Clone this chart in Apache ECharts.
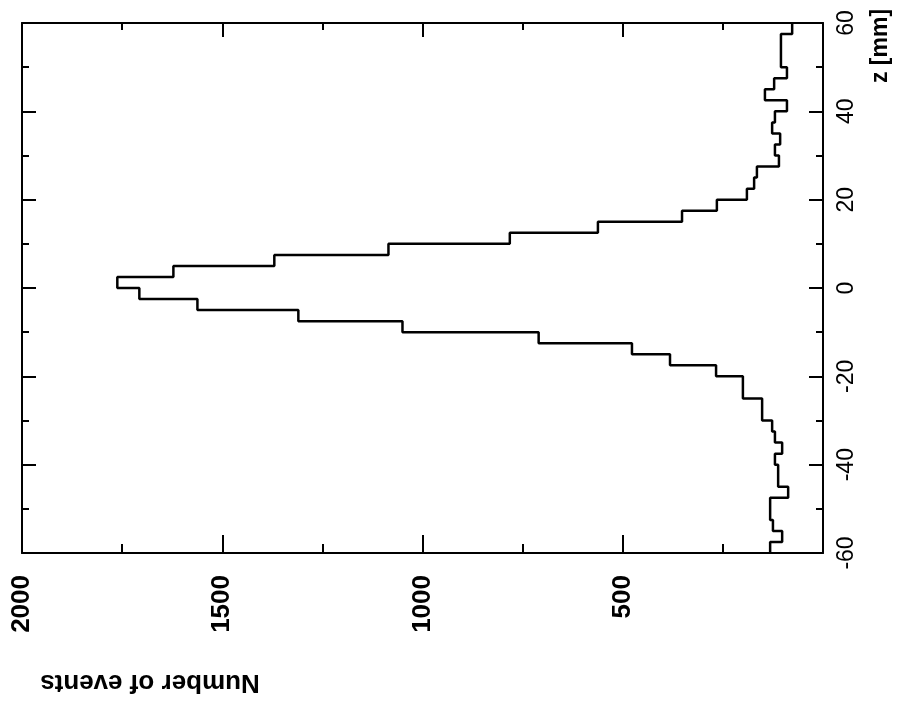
<!DOCTYPE html>
<html>
<head>
<meta charset="utf-8">
<script src="https://cdn.jsdelivr.net/npm/echarts@6/dist/echarts.min.js"></script>
<style>html,body{margin:0;padding:0;background:#fff}#c{width:897px;height:703px}</style>
</head>
<body>
<div id="c"></div>
<script>
// bin lower edges in z [mm] (bin width 2.5 mm)
const binLow = [-60,-57.5,-55,-52.5,-50,-47.5,-45,-42.5,-40,-37.5,-35,-32.5,-30,-27.5,-25,-22.5,-20,-17.5,-15,-12.5,-10,-7.5,-5,-2.5,
                0,2.5,5,7.5,10,12.5,15,17.5,20,22.5,25,27.5,30,32.5,35,37.5,40,42.5,45,47.5,50,52.5,55,57.5];
const binWidth = 2.5;
// number of events per bin
const counts = [132,102,125,132,132,87,112,112,120,102,120,127,152,152,200,200,267,382,477,710,1050,1310,1562,1707,
                1762,1622,1370,1085,782,562,352,265,190,172,165,110,120,107,127,120,90,145,122,90,105,105,105,77];
const countTickLabels = [500,1000,1500,2000];
const zTickLabels = [-60,-40,-20,0,20,40,60];
const xTitle = 'Number of events';
const zTitle = 'z [mm]';

const stepPts = [];
binLow.forEach((lo, i) => { stepPts.push([counts[i], lo]); stepPts.push([counts[i], lo + binWidth]); });

const font = 'Liberation Sans';
const chart = echarts.init(document.getElementById('c'), null, {renderer: 'canvas'});
const lineStyle = {color: '#000', width: 2};
chart.setOption({
  animation: false,
  backgroundColor: '#fff',
  grid: {left: 22, right: 74, top: 23, bottom: 150, containLabel: false},
  xAxis: [{
    type: 'value', position: 'bottom', min: 0, max: 2000, interval: 500, inverse: true,
    axisLine: {show: true, onZero: false, lineStyle},
    axisTick: {show: true, inside: true, length: 18, lineStyle: {color: '#000', width: 2}},
    minorTick: {show: true, splitNumber: 2, length: 9, lineStyle: {color: '#000', width: 2}},
    splitLine: {show: false},
    axisLabel: {
      show: true, rotate: 90, margin: 22, color: '#000', fontFamily: font, fontSize: 26, fontWeight: 'bold',
      showMinLabel: false,
      formatter: v => countTickLabels.includes(v) ? String(v) : ''
    }
  }, {
    type: 'value', position: 'top', min: 0, max: 2000, interval: 500, inverse: true,
    axisLine: {show: true, onZero: false, lineStyle},
    axisTick: {show: true, inside: true, length: 14, lineStyle: {color: '#000', width: 2}},
    minorTick: {show: true, splitNumber: 2, length: 7, lineStyle: {color: '#000', width: 2}},
    splitLine: {show: false},
    axisLabel: {show: false}
  }],
  yAxis: [{
    type: 'value', position: 'right', min: -60, max: 60, interval: 20,
    axisLine: {show: true, onZero: false, lineStyle},
    axisTick: {show: true, inside: true, length: 14, lineStyle: {color: '#000', width: 2}},
    minorTick: {show: true, splitNumber: 2, length: 7, lineStyle: {color: '#000', width: 2}},
    splitLine: {show: false},
    axisLabel: {
      show: true, rotate: 90, margin: 12, color: '#000', fontFamily: font, fontSize: 23,
      formatter: v => zTickLabels.includes(v) ? String(v) : ''
    }
  }, {
    type: 'value', position: 'left', min: -60, max: 60, interval: 20,
    axisLine: {show: true, onZero: false, lineStyle},
    axisTick: {show: true, inside: true, length: 14, lineStyle: {color: '#000', width: 2}},
    minorTick: {show: true, splitNumber: 2, length: 7, lineStyle: {color: '#000', width: 2}},
    splitLine: {show: false},
    axisLabel: {show: false}
  }],
  graphic: [
    {type: 'text', x: 881, y: 46, rotation: Math.PI / 2,
     style: {text: zTitle, fill: '#000', font: 'bold 23px "Liberation Sans"', align: 'center', verticalAlign: 'middle'}},
    {type: 'text', x: 150, y: 682, rotation: Math.PI,
     style: {text: xTitle, fill: '#000', font: 'bold 26px "Liberation Sans"', align: 'center', verticalAlign: 'middle'}}
  ],
  series: [{
    type: 'line', xAxisIndex: 0, yAxisIndex: 0, data: stepPts, showSymbol: false, symbol: 'none',
    lineStyle: {color: '#000', width: 2.5}, clip: true
  }]
});
</script>
</body>
</html>
